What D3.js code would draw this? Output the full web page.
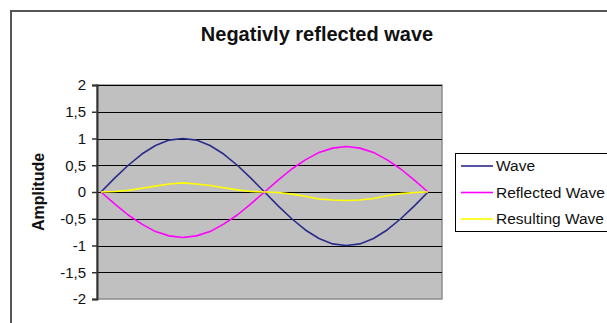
<!DOCTYPE html>
<html>
<head>
<meta charset="utf-8">
<script src="https://cdn.jsdelivr.net/npm/d3@7"></script>
<style>
  html, body { margin: 0; padding: 0; background: #fff; overflow: hidden; }
  svg { display: block; font-family: "Liberation Sans", Arial, sans-serif; }
</style>
</head>
<body>
<svg id="chart" width="607" height="323"></svg>
<script>
// Phase angle in degrees, sampled every 15°
const angles = [0, 15, 30, 45, 60, 75, 90, 105, 120, 135, 150, 165, 180,
                195, 210, 225, 240, 255, 270, 285, 300, 315, 330, 345, 360];

const wave = [0, 0.26, 0.5, 0.71, 0.87, 0.97, 1, 0.97, 0.87, 0.71, 0.5, 0.26, 0,
              -0.26, -0.5, -0.71, -0.87, -0.97, -1, -0.97, -0.87, -0.71, -0.5, -0.26, 0];

const reflectedWave = [0, -0.22, -0.43, -0.6, -0.74, -0.82, -0.85, -0.82, -0.74, -0.6, -0.43, -0.22, 0,
                       0.22, 0.43, 0.6, 0.74, 0.82, 0.85, 0.82, 0.74, 0.6, 0.43, 0.22, 0];

const resultingWave = [0, 0.01, 0.03, 0.07, 0.11, 0.15, 0.17, 0.15, 0.12, 0.08, 0.04, 0.01, 0,
                       -0.01, -0.04, -0.08, -0.13, -0.15, -0.16, -0.15, -0.12, -0.07, -0.03, -0.01, 0];

const yTicks = [2, 1.5, 1, 0.5, 0, -0.5, -1, -1.5, -2];

const seriesNames = ["Wave", "Reflected Wave", "Resulting Wave"];
const seriesColors = ["#2b2b8c", "#ff00ff", "#ffff00"];

const title = "Negativly reflected wave";
const yTitle = "Amplitude";

// Layout
const plot = { left: 97, right: 442, top: 85, bottom: 299 };

const svg = d3.select("#chart");

// Outer chart frame (runs off the bottom/right edge)
svg.append("path")
  .attr("d", `M11,330 L11,11 L620,11`)
  .attr("fill", "none")
  .attr("stroke", "#555")
  .attr("stroke-width", 2);

const x = d3.scaleLinear().domain([0, 360]).range([plot.left + 4, plot.right - 14]);
const y = d3.scaleLinear().domain([-2, 2]).range([plot.bottom, plot.top]);

// Plot background
svg.append("rect")
  .attr("x", plot.left).attr("y", plot.top)
  .attr("width", plot.right - plot.left).attr("height", plot.bottom - plot.top)
  .attr("fill", "#c0c0c0")
  .attr("stroke", "#8c8c8c")
  .attr("stroke-width", 1.5);

// Horizontal gridlines
svg.append("g")
  .selectAll("line")
  .data(yTicks.filter(d => d !== -2))
  .join("line")
  .attr("x1", plot.left).attr("x2", plot.right)
  .attr("y1", d => Math.round(y(d)) + 0.5).attr("y2", d => Math.round(y(d)) + 0.5)
  .attr("stroke", "#000")
  .attr("stroke-width", 1.2);

// Y axis
const fmt = d => String(d).replace(".", ",");
const yAxis = svg.append("g")
  .attr("transform", `translate(${plot.left},0)`)
  .call(d3.axisLeft(y).tickValues(yTicks).tickFormat(fmt).tickSize(5).tickPadding(6));
yAxis.select(".domain").attr("stroke", "#333").attr("stroke-width", 2);
yAxis.selectAll(".tick line").attr("stroke", "#333").attr("stroke-width", 1.5);
yAxis.selectAll(".tick text")
  .attr("font-size", 15)
  .attr("fill", "#111")
  .attr("font-family", "Liberation Sans, Arial, sans-serif");

// Series lines
const allSeries = [wave, reflectedWave, resultingWave];
const line = d3.line()
  .x((d, i) => x(angles[i]))
  .y(d => y(d));

svg.append("g")
  .selectAll("path")
  .data(allSeries)
  .join("path")
  .attr("d", d => line(d))
  .attr("fill", "none")
  .attr("stroke", (d, i) => seriesColors[i])
  .attr("stroke-width", 1.6)
  .attr("stroke-linejoin", "round");

// Title
svg.append("text")
  .attr("x", 317).attr("y", 41)
  .attr("text-anchor", "middle")
  .attr("font-size", 20)
  .attr("font-weight", "bold")
  .attr("fill", "#111")
  .text(title);

// Y axis title
svg.append("text")
  .attr("transform", `translate(44,${y(0)}) rotate(-90)`)
  .attr("text-anchor", "middle")
  .attr("font-size", 16)
  .attr("font-weight", "bold")
  .attr("fill", "#111")
  .text(yTitle);

// Legend (box continues past the right edge)
const legend = svg.append("g").attr("transform", "translate(455,153)");
legend.append("rect")
  .attr("x", 0.5).attr("y", 0.5)
  .attr("width", 220).attr("height", 78)
  .attr("fill", "#fff")
  .attr("stroke", "#000")
  .attr("stroke-width", 1);

const items = legend.selectAll("g.item")
  .data(seriesNames)
  .join("g")
  .attr("class", "item")
  .attr("transform", (d, i) => `translate(0,${13 + i * 26.5})`);

items.append("line")
  .attr("x1", 6).attr("x2", 38)
  .attr("y1", 0).attr("y2", 0)
  .attr("stroke", (d, i) => seriesColors[i])
  .attr("stroke-width", 1.6);

items.append("text")
  .attr("x", 41).attr("y", 0)
  .attr("dy", "0.35em")
  .attr("font-size", 15.5)
  .attr("fill", "#111")
  .text(d => d);
</script>
</body>
</html>
